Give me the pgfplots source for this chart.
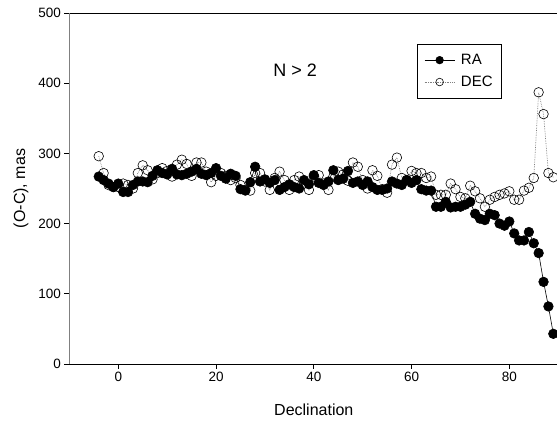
\documentclass[border=0pt]{standalone}
\usepackage{pgfplots}
\pgfplotsset{compat=1.18}
\usepackage{fontspec}
\setmainfont{Liberation Sans}
\begin{document}
\begin{tikzpicture}
\path[use as bounding box] (-69.4pt,-61pt) rectangle (487.6pt,364pt);
\begin{axis}[
  at={(0,0)}, anchor=south west,
  scale only axis, width=488.8pt, height=351pt,
  xmin=-10, xmax=90, ymin=0, ymax=500,
  xtick={0,20,40,60,80}, ytick={0,100,200,300,400,500},
  axis x line*=box, axis y line*=left,
  x axis line style={black, line width=0.8pt, -},
  y axis line style={gray, line width=1.6pt, -},
  xtick pos=bottom, ytick pos=left,
  tick align=outside, major tick length=5pt,
  tick style={black, line width=0.7pt},
  /pgf/number format/assume math mode=true,
  ticklabel style={font=\fontsize{13.5}{16}\selectfont},
  xlabel={Declination}, ylabel={(O-C), mas},
  label style={font=\fontsize{16}{19}\selectfont},
  xlabel style={at={(axis description cs:0.5,-0.131)}, anchor=center},
  ylabel style={at={(axis description cs:-0.099,0.5)}, anchor=center},
  clip=false,
  legend style={at={(0.711,0.912)}, anchor=north west, draw=black, line width=0.7pt,
    font=\fontsize{15}{17}\selectfont, row sep=6pt, inner xsep=7pt, inner ysep=8pt,
    /tikz/every odd column/.append style={column sep=4pt}},
  legend cell align=left,
  legend image code/.code={
    \draw[#1, mark=none] (0pt,0pt) -- (30pt,0pt);
    \draw[#1, only marks, mark size=3.8pt] plot coordinates {(15pt,0pt)};
  },
]
\addplot[black, line width=0.6pt, mark=*, mark size=4.8pt, mark options={solid, fill=black, draw=black}] coordinates {
(-4,267)(-3,262)(-2,257)(-1,252)(0,257)(1,245)(2,245)(3,255)(4,260)(5,260)
(6,259)(7,268)(8,276)(9,272)(10,270)(11,278)(12,270)(13,269)(14,271)(15,274)
(16,278)(17,271)(18,269)(19,272)(20,279)(21,268)(22,264)(23,271)(24,268)(25,249)
(26,247)(27,259)(28,281)(29,260)(30,263)(31,258)(32,262)(33,248)(34,252)(35,256)
(36,252)(37,250)(38,262)(39,256)(40,269)(41,258)(42,255)(43,260)(44,276)(45,262)
(46,264)(47,275)(48,258)(49,260)(50,255)(51,260)(52,252)(53,248)(54,248)(55,250)
(56,260)(57,257)(58,255)(59,262)(60,258)(61,262)(62,249)(63,247)(64,247)(65,224)
(66,224)(67,231)(68,223)(69,224)(70,224)(71,227)(72,231)(73,214)(74,207)(75,205)
(76,214)(77,212)(78,200)(79,197)(80,203)(81,186)(82,176)(83,176)(84,188)(85,172)
(86,158)(87,117)(88,82)(89,43)
};
\addlegendentry{RA}
\addplot[gray, densely dotted, line width=0.7pt, mark=o, mark size=4.8pt, mark options={solid, fill=white, draw=black, line width=0.6pt}] coordinates {
(-4,296)(-3,272)(-2,255)(-1,252)(0,252)(1,257)(2,255)(3,250)(4,272)(5,283)
(6,276)(7,263)(8,272)(9,279)(10,275)(11,267)(12,284)(13,291)(14,285)(15,268)
(16,287)(17,287)(18,274)(19,259)(20,268)(21,272)(22,268)(23,262)(24,265)(25,255)
(26,248)(27,247)(28,272)(29,272)(30,260)(31,248)(32,265)(33,274)(34,262)(35,248)
(36,262)(37,267)(38,257)(39,248)(40,267)(41,269)(42,257)(43,248)(44,267)(45,274)
(46,270)(47,261)(48,287)(49,281)(50,262)(51,250)(52,276)(53,268)(54,249)(55,244)
(56,284)(57,294)(58,265)(59,262)(60,275)(61,272)(62,272)(63,265)(64,267)(65,241)
(66,241)(67,241)(68,257)(69,249)(70,238)(71,236)(72,254)(73,246)(74,236)(75,224)
(76,234)(77,238)(78,241)(79,243)(80,246)(81,234)(82,234)(83,247)(84,251)(85,265)
(86,387)(87,356)(88,272)(89,266)
};
\addlegendentry{DEC}
\node[font=\fontsize{18}{21}\selectfont] at (axis cs:36.2,419) {N > 2};
\end{axis}
\end{tikzpicture}
\end{document}
